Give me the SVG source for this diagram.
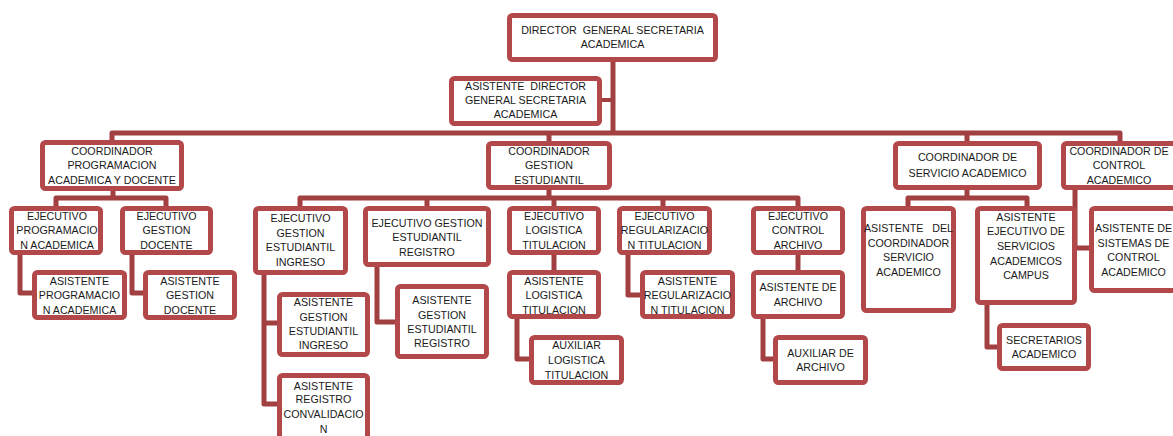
<svg xmlns="http://www.w3.org/2000/svg" width="1173" height="436" viewBox="0 0 1173 436">
  <style>
    .box { fill: #ffffff; stroke: #b2484a; stroke-width: 5; }
    .lbl { font-family: "Liberation Sans", Arial, sans-serif; font-size: 10.7px; fill: #1a1a1a; text-anchor: middle; white-space: pre; }
    .wire { fill: none; stroke: #a13f41; stroke-width: 5; stroke-linejoin: round; stroke-linecap: butt; }
  </style>
  <rect width="1173" height="436" fill="#ffffff"/>

  <!-- connectors -->
  <g id="connectors" class="wire">
    <path d="M613,60 V133"/>
    <path d="M600,100 H613" style="stroke-width:4"/>
    <path d="M112,142 V133 H1120 V143"/>
    <path d="M549,133 V143"/>
    <path d="M967,133 V143"/>
    <!-- programacion academica y docente -->
    <path d="M113,189 V198"/>
    <path d="M56,208 V198 H166 V208"/>
    <path d="M20,253 V293 H34"/>
    <path d="M132,253 V293 H145"/>
    <!-- gestion estudiantil -->
    <path d="M549,188 V198"/>
    <path d="M300,208 V198 H798 V208"/>
    <path d="M427,198 V208"/>
    <path d="M554,198 V208"/>
    <path d="M663,198 V208"/>
    <path d="M264,273 V404 H279"/>
    <path d="M264,323 H279"/>
    <path d="M377,265 V322 H397"/>
    <path d="M554,253 V272"/>
    <path d="M517,317 V359 H531"/>
    <path d="M628,253 V295 H642"/>
    <path d="M798,253 V272"/>
    <path d="M763,317 V359 H775"/>
    <!-- servicio academico -->
    <path d="M967,188 V198"/>
    <path d="M908,208 V198 H1027 V208"/>
    <path d="M987,303 V347 H999"/>
    <!-- control academico -->
    <path d="M1075,188 V248 H1091"/>
  </g>

  <g id="director">
    <rect class="box" x="509.5" y="15.5" width="206" height="44" rx="3"/>
    <text class="lbl"><tspan x="612.5" y="34">DIRECTOR  GENERAL SECRETARIA</tspan><tspan x="612.5" y="48">ACADEMICA</tspan></text>
  </g>
  <g id="asistente-director">
    <rect class="box" x="451.5" y="78.5" width="148" height="45" rx="3"/>
    <text class="lbl"><tspan x="525.5" y="90">ASISTENTE  DIRECTOR</tspan><tspan x="525.5" y="104">GENERAL SECRETARIA</tspan><tspan x="525.5" y="118">ACADEMICA</tspan></text>
  </g>

  <g id="coord-programacion">
    <rect class="box" x="42.5" y="142.5" width="139" height="46" rx="3"/>
    <text class="lbl"><tspan x="112" y="155">COORDINADOR</tspan><tspan x="112" y="169">PROGRAMACION</tspan><tspan x="112" y="184">ACADEMICA Y DOCENTE</tspan></text>
  </g>
  <g id="ejec-programacion">
    <rect class="box" x="11.5" y="208.5" width="89" height="44" rx="3"/>
    <text class="lbl"><tspan x="57" y="220">EJECUTIVO</tspan><tspan x="57" y="234">PROGRAMACIO</tspan><tspan x="57" y="249">N ACADEMICA</tspan></text>
  </g>
  <g id="ejec-docente">
    <rect class="box" x="122.5" y="208.5" width="88" height="44" rx="3"/>
    <text class="lbl"><tspan x="166.5" y="220">EJECUTIVO</tspan><tspan x="166.5" y="234">GESTION</tspan><tspan x="166.5" y="249">DOCENTE</tspan></text>
  </g>
  <g id="asist-programacion">
    <rect class="box" x="34.5" y="272.5" width="90" height="45" rx="3"/>
    <text class="lbl"><tspan x="79.5" y="285">ASISTENTE</tspan><tspan x="79.5" y="299">PROGRAMACIO</tspan><tspan x="79.5" y="314">N ACADEMICA</tspan></text>
  </g>
  <g id="asist-docente">
    <rect class="box" x="145.5" y="272.5" width="89" height="45" rx="3"/>
    <text class="lbl"><tspan x="190" y="285">ASISTENTE</tspan><tspan x="190" y="299">GESTION</tspan><tspan x="190" y="314">DOCENTE</tspan></text>
  </g>

  <g id="coord-gestion-estudiantil">
    <rect class="box" x="488.5" y="143.5" width="121" height="44" rx="3"/>
    <text class="lbl"><tspan x="549" y="155">COORDINADOR</tspan><tspan x="549" y="169">GESTION</tspan><tspan x="549" y="184">ESTUDIANTIL</tspan></text>
  </g>
  <g id="ejec-ingreso">
    <rect class="box" x="255.5" y="208.5" width="90" height="64" rx="3"/>
    <text class="lbl"><tspan x="300.5" y="222">EJECUTIVO</tspan><tspan x="300.5" y="237">GESTION</tspan><tspan x="300.5" y="251">ESTUDIANTIL</tspan><tspan x="300.5" y="266">INGRESO</tspan></text>
  </g>
  <g id="ejec-registro">
    <rect class="box" x="365.5" y="208.5" width="123" height="56" rx="3"/>
    <text class="lbl"><tspan x="427" y="227">EJECUTIVO GESTION</tspan><tspan x="427" y="241">ESTUDIANTIL</tspan><tspan x="427" y="256">REGISTRO</tspan></text>
  </g>
  <g id="asist-ingreso">
    <rect class="box" x="279.5" y="294.5" width="88" height="60" rx="3"/>
    <text class="lbl"><tspan x="323.5" y="306">ASISTENTE</tspan><tspan x="323.5" y="321">GESTION</tspan><tspan x="323.5" y="335">ESTUDIANTIL</tspan><tspan x="323.5" y="349">INGRESO</tspan></text>
  </g>
  <g id="asist-convalidacion">
    <rect class="box" x="279.5" y="375.5" width="88" height="80" rx="3"/>
    <text class="lbl"><tspan x="323.5" y="390">ASISTENTE</tspan><tspan x="323.5" y="403">REGISTRO</tspan><tspan x="323.5" y="418">CONVALIDACIO</tspan><tspan x="323.5" y="433">N</tspan></text>
  </g>
  <g id="asist-registro">
    <rect class="box" x="397.5" y="286.5" width="89" height="70" rx="3"/>
    <text class="lbl"><tspan x="442" y="304">ASISTENTE</tspan><tspan x="442" y="319">GESTION</tspan><tspan x="442" y="333">ESTUDIANTIL</tspan><tspan x="442" y="347">REGISTRO</tspan></text>
  </g>
  <g id="ejec-logistica">
    <rect class="box" x="509.5" y="208.5" width="89" height="44" rx="3"/>
    <text class="lbl"><tspan x="554" y="220">EJECUTIVO</tspan><tspan x="554" y="234">LOGISTICA</tspan><tspan x="554" y="249">TITULACION</tspan></text>
  </g>
  <g id="ejec-regularizacion">
    <rect class="box" x="619.5" y="208.5" width="90" height="44" rx="3"/>
    <text class="lbl"><tspan x="664.5" y="220">EJECUTIVO</tspan><tspan x="664.5" y="234">REGULARIZACIO</tspan><tspan x="664.5" y="249">N TITULACION</tspan></text>
  </g>
  <g id="asist-logistica">
    <rect class="box" x="509.5" y="272.5" width="89" height="44" rx="3"/>
    <text class="lbl"><tspan x="554" y="285">ASISTENTE</tspan><tspan x="554" y="299">LOGISTICA</tspan><tspan x="554" y="314">TITULACION</tspan></text>
  </g>
  <g id="asist-regularizacion">
    <rect class="box" x="642.5" y="272.5" width="90" height="44" rx="3"/>
    <text class="lbl"><tspan x="687.5" y="285">ASISTENTE</tspan><tspan x="687.5" y="299">REGULARIZACIO</tspan><tspan x="687.5" y="314">N TITULACION</tspan></text>
  </g>
  <g id="aux-logistica">
    <rect class="box" x="531.5" y="337.5" width="90" height="45" rx="3"/>
    <text class="lbl"><tspan x="576.5" y="349">AUXILIAR</tspan><tspan x="576.5" y="364">LOGISTICA</tspan><tspan x="576.5" y="379">TITULACION</tspan></text>
  </g>
  <g id="ejec-archivo">
    <rect class="box" x="753.5" y="208.5" width="89" height="44" rx="3"/>
    <text class="lbl"><tspan x="798" y="220">EJECUTIVO</tspan><tspan x="798" y="234">CONTROL</tspan><tspan x="798" y="249">ARCHIVO</tspan></text>
  </g>
  <g id="asist-archivo">
    <rect class="box" x="753.5" y="272.5" width="89" height="44" rx="3"/>
    <text class="lbl"><tspan x="798" y="291">ASISTENTE DE</tspan><tspan x="798" y="306">ARCHIVO</tspan></text>
  </g>
  <g id="aux-archivo">
    <rect class="box" x="775.5" y="337.5" width="90" height="45" rx="3"/>
    <text class="lbl"><tspan x="820.5" y="357">AUXILIAR DE</tspan><tspan x="820.5" y="371">ARCHIVO</tspan></text>
  </g>

  <g id="coord-servicio">
    <rect class="box" x="895.5" y="143.5" width="144" height="44" rx="3"/>
    <text class="lbl"><tspan x="967.5" y="161">COORDINADOR DE</tspan><tspan x="967.5" y="177">SERVICIO ACADEMICO</tspan></text>
  </g>
  <g id="asist-coord-servicio">
    <rect class="box" x="863.5" y="208.5" width="90" height="102" rx="3"/>
    <text class="lbl"><tspan x="908.5" y="232">ASISTENTE   DEL</tspan><tspan x="908.5" y="247">COORDINADOR</tspan><tspan x="908.5" y="261">SERVICIO</tspan><tspan x="908.5" y="276">ACADEMICO</tspan></text>
  </g>
  <g id="asist-servicios-campus">
    <rect class="box" x="977.5" y="208.5" width="97" height="94" rx="3"/>
    <text class="lbl"><tspan x="1026" y="221">ASISTENTE</tspan><tspan x="1026" y="235">EJECUTIVO DE</tspan><tspan x="1026" y="250">SERVICIOS</tspan><tspan x="1026" y="265">ACADEMICOS</tspan><tspan x="1026" y="279">CAMPUS</tspan></text>
  </g>
  <g id="secretarios">
    <rect class="box" x="999.5" y="325.5" width="89" height="43" rx="3"/>
    <text class="lbl"><tspan x="1044" y="344">SECRETARIOS</tspan><tspan x="1044" y="358">ACADEMICO</tspan></text>
  </g>

  <g id="coord-control">
    <rect class="box" x="1063.5" y="143.5" width="130" height="44" rx="3"/>
    <text class="lbl"><tspan x="1119" y="155">COORDINADOR DE</tspan><tspan x="1119" y="169">CONTROL</tspan><tspan x="1119" y="184">ACADEMICO</tspan></text>
  </g>
  <g id="asist-sistemas-control">
    <rect class="box" x="1091.5" y="208.5" width="100" height="82" rx="3"/>
    <text class="lbl"><tspan x="1133.5" y="232">ASISTENTE DE</tspan><tspan x="1133.5" y="247">SISTEMAS DE</tspan><tspan x="1133.5" y="261">CONTROL</tspan><tspan x="1133.5" y="276">ACADEMICO</tspan></text>
  </g>
</svg>
